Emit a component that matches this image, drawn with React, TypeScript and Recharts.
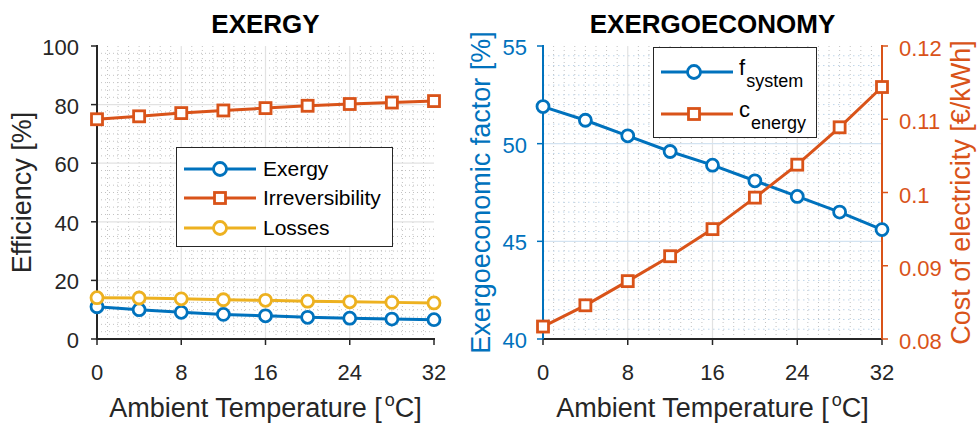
import React from 'react';
import { LineChart, Line, XAxis, YAxis, ReferenceLine, Legend, Label } from 'recharts';

const FONT = '"Liberation Sans", Arial, Helvetica, sans-serif';
const INK = '#262626';
const BLUE = '#0072BD';
const ORANGE = '#D95319';
const YELLOW = '#EDB120';
const GRID = '#e2e2e2';
const GRID_BLUE = '#d3e3f1';
const MINOR = '#c2c2c2';
const MINOR_BLUE = '#bfd6ea';

// Ambient temperature steps, °C
const temperature = [0, 4, 8, 12, 16, 20, 24, 28, 32];
// Exergy balance split, %
const exergyEfficiency = [11.0, 10.0, 9.1, 8.4, 7.9, 7.4, 7.1, 6.8, 6.6];
const irreversibility = [75.0, 76.0, 77.1, 78.0, 78.8, 79.6, 80.2, 80.7, 81.2];
const losses = [14.1, 14.0, 13.7, 13.4, 13.2, 12.9, 12.7, 12.5, 12.3];
// Exergoeconomic factor, %
const fSystem = [51.9, 51.2, 50.4, 49.6, 48.9, 48.1, 47.3, 46.5, 45.6];
// Cost of electricity, €/kWh
const cEnergy = [0.0817, 0.0846, 0.0879, 0.0913, 0.095, 0.0993, 0.1038, 0.1089, 0.1144];

const temperatureTicks = [0, 8, 16, 24, 32];
const efficiencyTicks = [0, 20, 40, 60, 80, 100];
const factorTicks = [40, 45, 50, 55];
const costTicks = [0.08, 0.09, 0.1, 0.11, 0.12];

// minor grid positions between the major ticks
const temperatureMinor = Array.from({ length: 31 }, (_, i) => i + 1).filter((v) => v % 8 !== 0);
const efficiencyMinor = Array.from({ length: 39 }, (_, i) => (i + 1) * 2.5).filter((v) => v % 20 !== 0);
const factorMinor = Array.from({ length: 29 }, (_, i) => 40 + (i + 1) * 0.5).filter((v) => v % 5 !== 0);

type SeriesDef = { key: string; name: string; sub?: string; color: string; marker: 'circle' | 'square' };

const efficiencySeries: SeriesDef[] = [
  { key: 'exergy', name: 'Exergy', color: BLUE, marker: 'circle' },
  { key: 'irreversibility', name: 'Irreversibility', color: ORANGE, marker: 'square' },
  { key: 'losses', name: 'Losses', color: YELLOW, marker: 'circle' },
];
const economySeries: SeriesDef[] = [
  { key: 'fSystem', name: 'f', sub: 'system', color: BLUE, marker: 'circle' },
  { key: 'cEnergy', name: 'c', sub: 'energy', color: ORANGE, marker: 'square' },
];

const efficiencyRows = temperature.map((t, i) => ({
  t,
  exergy: exergyEfficiency[i],
  irreversibility: irreversibility[i],
  losses: losses[i],
}));
const economyRows = temperature.map((t, i) => ({ t, fSystem: fSystem[i], cEnergy: cEnergy[i] }));

const W = 977;
const H = 429;
const TICK_FONT = 22;
const LABEL_FONT = 27;
const LINE_W = 3;

const bottomTick = (p: any) => (
  <g>
    <line x1={p.x} x2={p.x} y1={p.y} y2={p.y - 6} stroke={INK} strokeWidth={1.5} />
    <text x={p.x} y={p.y + 35} textAnchor="middle" fill={INK} fontFamily={FONT} fontSize={TICK_FONT}>
      {p.payload.value}
    </text>
  </g>
);
const topTick = (p: any) => (
  <line x1={p.x} x2={p.x} y1={p.y} y2={p.y + 6} stroke={INK} strokeWidth={1.5} />
);
const leftTick = (color: string, gap: number) => (p: any) => (
  <g>
    <line x1={p.x} x2={p.x + 6} y1={p.y} y2={p.y} stroke={color} strokeWidth={1.5} />
    <text x={p.x - gap} y={p.y + 9} textAnchor="end" fill={color} fontFamily={FONT} fontSize={TICK_FONT}>
      {p.payload.value}
    </text>
  </g>
);
const rightTick = (color: string, gap: number | null) => (p: any) => (
  <g>
    <line x1={p.x} x2={p.x - 6} y1={p.y} y2={p.y} stroke={color} strokeWidth={1.5} />
    {gap !== null && (
      <text x={p.x + gap} y={p.y + 10} textAnchor="start" fill={color} fontFamily={FONT} fontSize={TICK_FONT}>
        {p.payload.value}
      </text>
    )}
  </g>
);

// Bottom axis label carries the panel title as well (title sits above the plot box)
const temperatureLabel = (title: string) => (props: any) => {
  const vb = props.viewBox;
  const cx = vb.x + vb.width / 2;
  return (
    <g>
      <text x={cx} y={33} textAnchor="middle" fontFamily={FONT} fontSize={26} fontWeight="bold" fill="#000">
        {title}
      </text>
      <text x={cx} y={vb.y + 78} textAnchor="middle" fontFamily={FONT} fontSize={LABEL_FONT} fill={INK}>
        Ambient Temperature [
        <tspan dx={3} dy={-11} fontSize={18}>o</tspan>
        <tspan dy={11}>C]</tspan>
      </text>
    </g>
  );
};

const verticalLabel = (text: string, color: string, baselineX: number) => (props: any) => {
  const vb = props.viewBox;
  const cy = vb.y + vb.height / 2;
  return (
    <text
      x={baselineX}
      y={cy}
      transform={`rotate(-90, ${baselineX}, ${cy})`}
      textAnchor="middle"
      fontFamily={FONT}
      fontSize={LABEL_FONT}
      fill={color}
    >
      {text}
    </text>
  );
};

const circleDot = (color: string) => ({ r: 6, fill: '#fff', stroke: color, strokeWidth: 2.8 });
const squareDot = (color: string) => (p: any) => (
  <rect key={`sq-${p.index}`} x={p.cx - 5.5} y={p.cy - 5.5} width={11} height={11} fill="#fff" stroke={color} strokeWidth={2.8} />
);
const dotFor = (s: SeriesDef) => (s.marker === 'circle' ? circleDot(s.color) : squareDot(s.color));

type LegendLayout = { width: number; height: number; rows: number[]; markerX: number; textX: number; fontSize: number };

function LegendBox({ series, layout }: { series: SeriesDef[]; layout: LegendLayout }) {
  const { width, height, rows, markerX, textX, fontSize } = layout;
  return (
    <svg width={width} height={height} style={{ display: 'block' }}>
      <rect x={0.5} y={0.5} width={width - 1} height={height - 1} fill="#fff" stroke={INK} strokeWidth={1} />
      {series.map((s, i) => {
        const ry = rows[i];
        return (
          <g key={s.key}>
            <line x1={8} x2={80} y1={ry} y2={ry} stroke={s.color} strokeWidth={LINE_W} />
            {s.marker === 'circle' ? (
              <circle cx={markerX} cy={ry} r={6.5} fill="#fff" stroke={s.color} strokeWidth={2.8} />
            ) : (
              <rect x={markerX - 5.5} y={ry - 5.5} width={11} height={11} fill="#fff" stroke={s.color} strokeWidth={2.8} />
            )}
            {s.sub ? (
              <text x={textX} y={ry + 3} fontFamily={FONT} fontSize={fontSize} fill="#000">
                {s.name}
                <tspan dx={1} dy={12} fontSize={18}>{s.sub}</tspan>
              </text>
            ) : (
              <text x={textX} y={ry + 7} fontFamily={FONT} fontSize={fontSize} fill="#000">
                {s.name}
              </text>
            )}
          </g>
        );
      })}
    </svg>
  );
}

const axisLine = (color: string) => ({ stroke: color, strokeWidth: 2, strokeLinecap: 'square' as const });

function EfficiencyChart() {
  return (
    <LineChart width={W} height={H} data={efficiencyRows} margin={{ top: 46, right: W - 434, bottom: 0, left: 0 }}>
      {temperatureMinor.map((v) => (
        <ReferenceLine key={`vx${v}`} xAxisId="b" yAxisId="l" x={v} stroke={MINOR} strokeDasharray="1 3" strokeWidth={1} />
      ))}
      {efficiencyMinor.map((v) => (
        <ReferenceLine key={`hy${v}`} xAxisId="b" yAxisId="l" y={v} stroke={MINOR} strokeDasharray="1 3" strokeWidth={1} />
      ))}
      {temperatureTicks.slice(1, -1).map((v) => (
        <ReferenceLine key={`gx${v}`} xAxisId="b" yAxisId="l" x={v} stroke={GRID} strokeWidth={1.2} />
      ))}
      {efficiencyTicks.slice(1, -1).map((v) => (
        <ReferenceLine key={`gy${v}`} xAxisId="b" yAxisId="l" y={v} stroke={GRID} strokeWidth={1.2} />
      ))}
      <XAxis
        xAxisId="b"
        dataKey="t"
        type="number"
        domain={[0, 32]}
        ticks={temperatureTicks}
        interval={0}
        height={90}
        tickLine={false}
        tickMargin={0}
        axisLine={axisLine(INK)}
        tick={bottomTick}
      >
        <Label content={temperatureLabel('EXERGY')} />
      </XAxis>
      <XAxis
        xAxisId="t"
        orientation="top"
        dataKey="t"
        type="number"
        domain={[0, 32]}
        ticks={temperatureTicks}
        interval={0}
        height={0}
        tickLine={false}
        tickMargin={0}
        axisLine={axisLine(INK)}
        tick={topTick}
      />
      <YAxis
        yAxisId="l"
        type="number"
        domain={[0, 100]}
        ticks={efficiencyTicks}
        interval={0}
        width={97}
        tickLine={false}
        tickMargin={0}
        axisLine={axisLine(INK)}
        tick={leftTick(INK, 12)}
      >
        <Label content={verticalLabel('Efficiency [%]', INK, 31)} />
      </YAxis>
      <YAxis
        yAxisId="r"
        orientation="right"
        type="number"
        domain={[0, 100]}
        ticks={efficiencyTicks}
        interval={0}
        width={0}
        tickLine={false}
        tickMargin={0}
        axisLine={axisLine(INK)}
        tick={rightTick(INK, null)}
      />
      {efficiencySeries.map((s) => (
        <Line
          key={s.key}
          xAxisId="b"
          yAxisId="l"
          dataKey={s.key}
          name={s.name}
          stroke={s.color}
          strokeWidth={LINE_W}
          dot={dotFor(s) as any}
          activeDot={false}
          isAnimationActive={false}
        />
      ))}
      <Legend
        verticalAlign="middle"
        align="center"
        layout="horizontal"
        wrapperStyle={{ left: 176, top: 147, width: 217, height: 100, margin: 0 }}
        content={() => (
          <LegendBox
            series={efficiencySeries}
            layout={{ width: 217, height: 100, rows: [22, 51, 81], markerX: 44, textX: 87, fontSize: 21 }}
          />
        )}
      />
    </LineChart>
  );
}

function EconomyChart() {
  return (
    <LineChart width={W} height={H} data={economyRows} margin={{ top: 46, right: 0, bottom: 0, left: 0 }}>
      {temperatureMinor.map((v) => (
        <ReferenceLine key={`vx${v}`} xAxisId="b" yAxisId="l" x={v} stroke={MINOR} strokeDasharray="1 3" strokeWidth={1} />
      ))}
      {factorMinor.map((v) => (
        <ReferenceLine key={`hy${v}`} xAxisId="b" yAxisId="l" y={v} stroke={MINOR_BLUE} strokeDasharray="1.5 3.5" strokeWidth={1} />
      ))}
      {temperatureTicks.slice(1, -1).map((v) => (
        <ReferenceLine key={`gx${v}`} xAxisId="b" yAxisId="l" x={v} stroke={GRID} strokeWidth={1.2} />
      ))}
      {factorTicks.slice(1, -1).map((v) => (
        <ReferenceLine key={`gy${v}`} xAxisId="b" yAxisId="l" y={v} stroke={GRID_BLUE} strokeWidth={1.2} />
      ))}
      <XAxis
        xAxisId="b"
        dataKey="t"
        type="number"
        domain={[0, 32]}
        ticks={temperatureTicks}
        interval={0}
        height={90}
        tickLine={false}
        tickMargin={0}
        axisLine={axisLine(INK)}
        tick={bottomTick}
      >
        <Label content={temperatureLabel('EXERGOECONOMY')} />
      </XAxis>
      <XAxis
        xAxisId="t"
        orientation="top"
        dataKey="t"
        type="number"
        domain={[0, 32]}
        ticks={temperatureTicks}
        interval={0}
        height={0}
        tickLine={false}
        tickMargin={0}
        axisLine={axisLine(INK)}
        tick={topTick}
      />
      <YAxis
        yAxisId="l"
        type="number"
        domain={[40, 55]}
        allowDataOverflow
        ticks={factorTicks}
        interval={0}
        width={543}
        tickLine={false}
        tickMargin={0}
        axisLine={axisLine(BLUE)}
        tick={leftTick(BLUE, 10)}
      >
        <Label content={verticalLabel('Exergoeconomic factor [%]', BLUE, 490)} />
      </YAxis>
      <YAxis
        yAxisId="r"
        orientation="right"
        type="number"
        domain={[0.08, 0.12]}
        ticks={costTicks}
        interval={0}
        width={W - 882}
        tickLine={false}
        tickMargin={0}
        axisLine={axisLine(ORANGE)}
        tick={rightTick(ORANGE, 11)}
      >
        <Label content={verticalLabel('Cost of electricity [€/kWh]', ORANGE, 970)} />
      </YAxis>
      {economySeries.map((s) => (
        <Line
          key={s.key}
          xAxisId="b"
          yAxisId={s.key === 'fSystem' ? 'l' : 'r'}
          dataKey={s.key}
          name={s.name}
          stroke={s.color}
          strokeWidth={LINE_W}
          dot={dotFor(s) as any}
          activeDot={false}
          isAnimationActive={false}
        />
      ))}
      <Legend
        verticalAlign="middle"
        align="center"
        layout="horizontal"
        wrapperStyle={{ left: 653, top: 47, width: 164, height: 91, margin: 0 }}
        content={() => (
          <LegendBox
            series={economySeries}
            layout={{ width: 164, height: 91, rows: [25, 67], markerX: 41, textX: 86, fontSize: 22 }}
          />
        )}
      />
    </LineChart>
  );
}

export default function App() {
  return (
    <div style={{ position: 'absolute', left: 0, top: 0, width: W, height: H, background: '#fff' }}>
      <div style={{ position: 'absolute', left: 0, top: 0 }}>
        <EfficiencyChart />
      </div>
      <div style={{ position: 'absolute', left: 0, top: 0 }}>
        <EconomyChart />
      </div>
    </div>
  );
}
